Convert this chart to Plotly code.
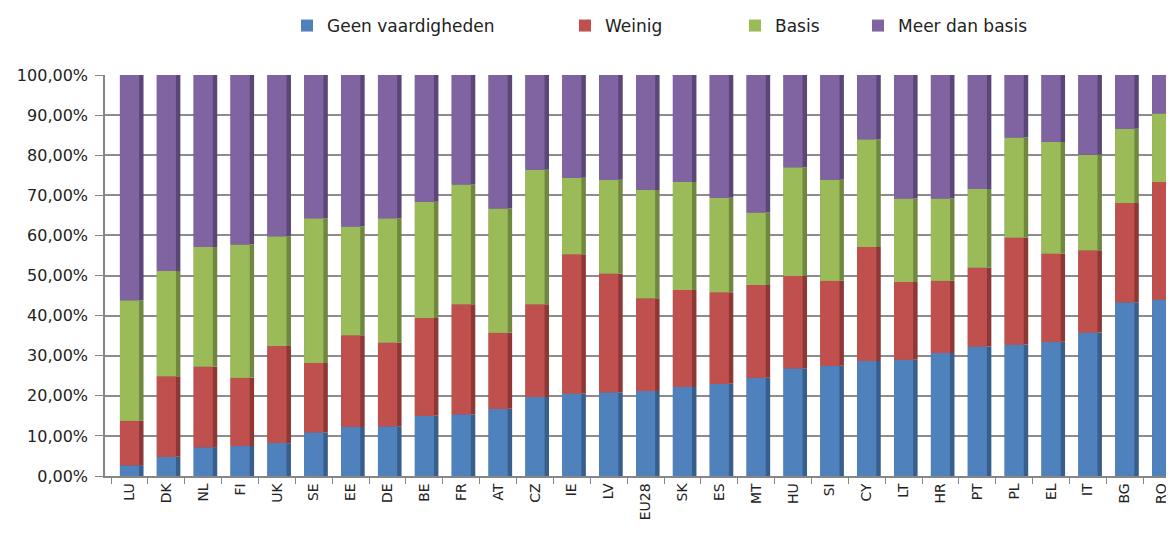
import numpy as np
import plotly.graph_objects as go

countries = ["LU", "DK", "NL", "FI", "UK", "SE", "EE", "DE", "BE", "FR", "AT", "CZ", "IE", "LV",
             "EU28", "SK", "ES", "MT", "HU", "SI", "CY", "LT", "HR", "PT", "PL", "EL", "IT", "BG", "RO"]

# percentages per segment
geen = [2.7, 4.8, 7.2, 7.5, 8.2, 10.9, 12.2, 12.4, 15.0, 15.4, 16.8, 19.7, 20.6, 20.9,
        21.2, 22.2, 23.0, 24.5, 26.9, 27.5, 28.7, 29.0, 30.7, 32.3, 32.8, 33.5, 35.8, 43.3, 44.0]
weinig = [11.1, 20.1, 20.1, 17.0, 24.2, 17.3, 22.9, 20.9, 24.4, 27.4, 18.9, 23.1, 34.7, 29.6,
          23.1, 24.2, 22.8, 23.1, 23.0, 21.2, 28.4, 19.4, 18.0, 19.7, 26.7, 22.0, 20.5, 24.8, 29.3]
basis = [30.0, 26.2, 29.8, 33.2, 27.4, 36.1, 27.1, 31.0, 29.0, 29.9, 31.0, 33.6, 19.1, 23.4,
         27.0, 26.9, 23.6, 18.1, 27.1, 25.2, 26.9, 20.8, 20.5, 19.6, 24.9, 27.8, 23.8, 18.5, 17.1]
meer = [56.2, 48.9, 42.9, 42.3, 40.2, 35.7, 37.8, 35.7, 31.6, 27.3, 33.3, 23.6, 25.6, 26.1,
        28.7, 26.7, 30.6, 34.3, 23.0, 26.1, 16.0, 30.8, 30.8, 28.4, 15.6, 16.7, 19.9, 13.4, 9.6]

series_names = ["Geen vaardigheden", "Weinig", "Basis", "Meer dan basis"]
front_colors = ["#4F81BD", "#C0504D", "#9BBB59", "#8064A2"]
side_colors = ["#385E8C", "#8E3835", "#6F873F", "#5B4775"]
legend_px = [279, 557, 727, 850]

L, R, T, B = 97, 0, 62, 58
W, H = 1166, 526
pw = W - L - R
ph = H - T - B

fig = go.Figure()
base = np.zeros(len(countries))
font = dict(family="DejaVu Sans", size=16, color="#222222")
xfont = dict(family="DejaVu Sans", size=14, color="#222222")
lfont = dict(family="DejaVu Sans", size=17, color="#222222")
for i, (name, vals) in enumerate(zip(series_names, [geen, weinig, basis, meer])):
    v = np.array(vals) / 100.0
    lg = "legend" if i == 0 else f"legend{i + 1}"
    fig.add_trace(go.Bar(x=countries, y=v, base=base, width=0.64, offset=-0.26,
                         marker=dict(color=side_colors[i], line_width=0),
                         showlegend=False, hoverinfo="skip"))
    fig.add_trace(go.Bar(x=countries, y=v, base=base, width=0.52, offset=-0.26,
                         marker=dict(color=front_colors[i], line_width=0),
                         name=name, legend=lg))
    base = base + v

legend_y = 1 + (T - 12) / ph
legends = {}
for i, px in enumerate(legend_px):
    key = "legend" if i == 0 else f"legend{i + 1}"
    legends[key] = dict(x=(px - L) / pw, y=legend_y, xanchor="left", yanchor="middle",
                        orientation="h", font=lfont, bgcolor="rgba(0,0,0,0)")

fig.update_layout(
    width=W, height=H,
    margin=dict(l=L, r=R, t=T, b=B),
    barmode="overlay",
    separators=", ",
    paper_bgcolor="white", plot_bgcolor="white",
    font=font,
    xaxis=dict(type="category", range=[-0.665, len(countries) - 1 + 0.335],
               tickangle=-90, tickfont=xfont, showline=True, linecolor="#868686", linewidth=1.5,
               ticks="outside", ticklen=6, tickcolor="#868686", tickson="boundaries",
               showgrid=False, automargin=False),
    yaxis=dict(range=[0, 1.0], tickvals=[k / 10 for k in range(11)], tickformat=".2%",
               tickfont=font, showgrid=True, gridcolor="#8C8C8C", gridwidth=1.5,
               showline=True, linecolor="#868686", linewidth=1.5, zeroline=False,
               ticks="outside", ticklen=8, tickcolor="#868686", ticklabelstandoff=4,
               automargin=False),
    **legends,
)

fig.write_html("out.html")
